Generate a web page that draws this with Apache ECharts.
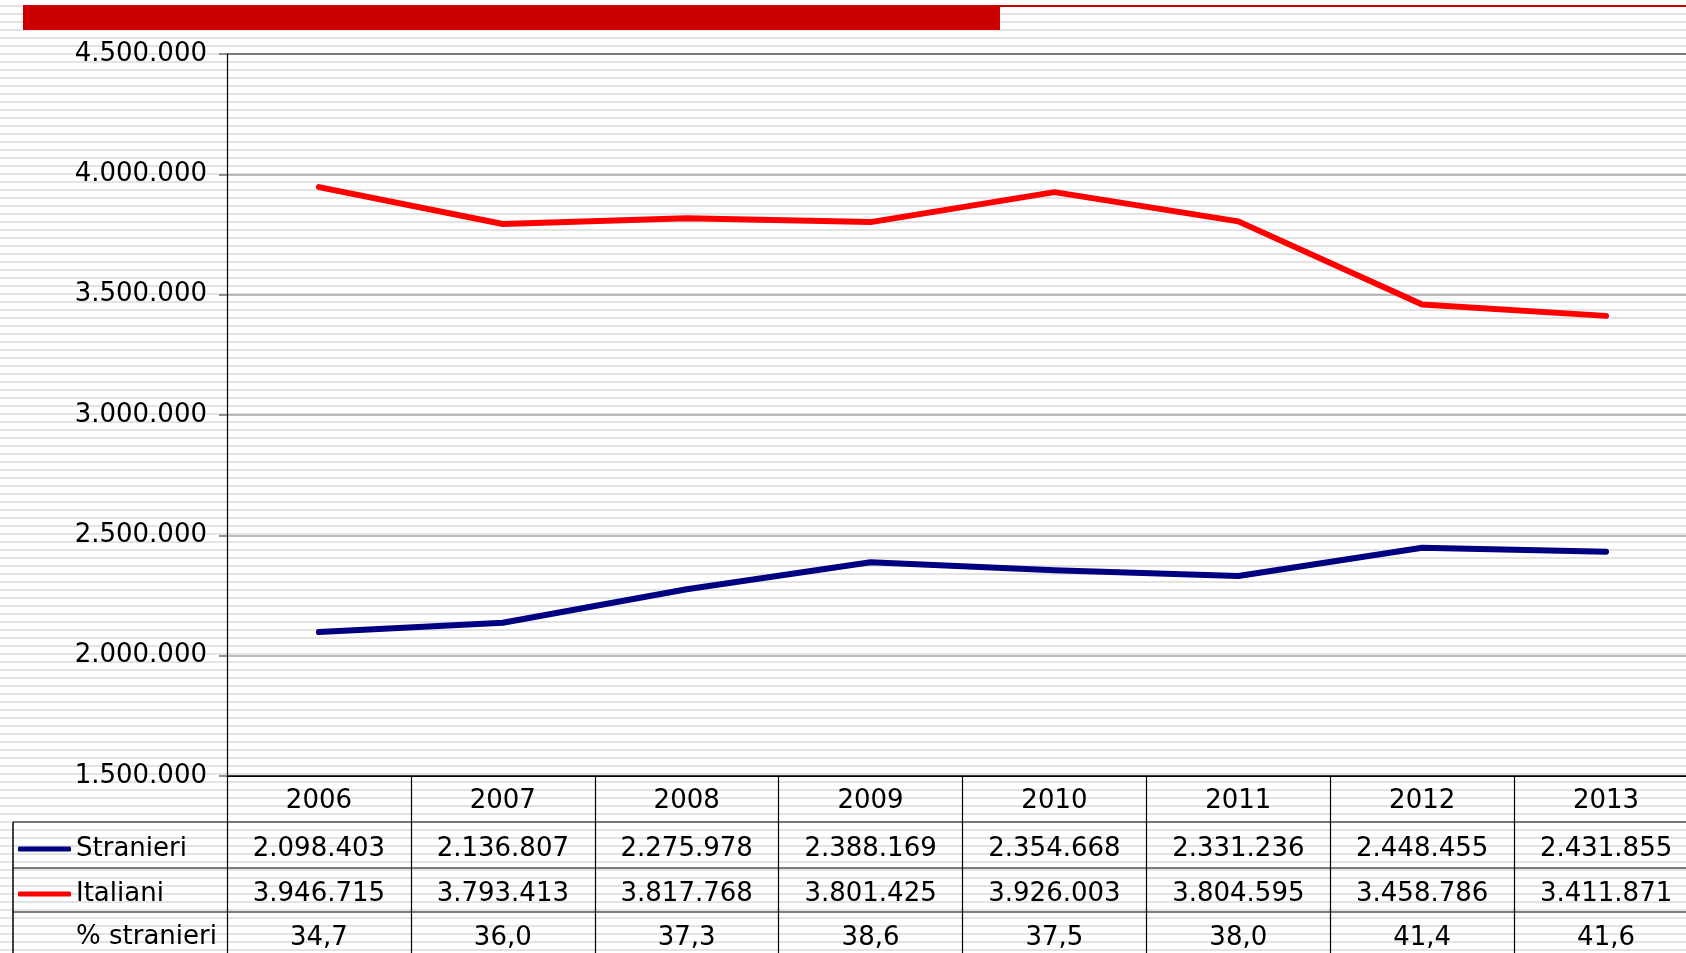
<!DOCTYPE html>
<html>
<head>
<meta charset="utf-8">
<script src="https://cdn.jsdelivr.net/npm/echarts@6/dist/echarts.min.js"></script>
<style>
  html, body { margin: 0; padding: 0; }
  body {
    width: 1686px; height: 953px; overflow: hidden;
    background: repeating-linear-gradient(to bottom, #ffffff 0px, #ffffff 5.5px, #e3e3e3 5.5px, #e3e3e3 7.5px, #ffffff 7.5px, #ffffff 8px);
  }
  #chart { width: 1686px; height: 953px; }
</style>
</head>
<body>
<div id="chart"></div>
<script>
// ---- data ----
const years = ['2006', '2007', '2008', '2009', '2010', '2011', '2012', '2013'];
const stranieri = [2098403, 2136807, 2275978, 2388169, 2354668, 2331236, 2448455, 2431855];
const italiani = [3946715, 3793413, 3817768, 3801425, 3926003, 3804595, 3458786, 3411871];
const pctStranieri = ['34,7', '36,0', '37,3', '38,6', '37,5', '38,0', '41,4', '41,6'];
const seriesNames = ['Stranieri', 'Italiani'];
const extraRowLabel = '% stranieri';

// ---- layout ----
const W = 1686, H = 953;
const gridLeft = 227, gridTop = 54, gridBottomY = 776, gridWidth = 1471;
const rowHeights = [46, 46, 44, 44];
const textLineHeights = [46, 50, 40, 48];
const FONT = '"DejaVu Sans", Verdana, sans-serif';
const FS = 26;

function fmtThousands(v) {
  return String(Math.round(v)).replace(/\B(?=(\d{3})+(?!\d))/g, '.');
}

const chart = echarts.init(document.getElementById('chart'), null, { renderer: 'canvas' });

const tableLineColor = '#505050';
const y1 = gridBottomY + rowHeights[0];
const y2 = y1 + rowHeights[1];
const y3 = y2 + rowHeights[2];
const graphics = [
  { type: 'rect', shape: { x: 23, y: 5, width: W - 23, height: 2 }, style: { fill: '#cc0000' } },
  { type: 'rect', shape: { x: 23, y: 5, width: 977, height: 25 }, style: { fill: '#cc0000' } },
  // table horizontal lines
  { type: 'line', shape: { x1: 13, y1: y1, x2: W, y2: y1 }, style: { stroke: tableLineColor, lineWidth: 1.5 } },
  { type: 'line', shape: { x1: 13, y1: y2, x2: W, y2: y2 }, style: { stroke: tableLineColor, lineWidth: 1.5 } },
  { type: 'line', shape: { x1: 13, y1: y3, x2: W, y2: y3 }, style: { stroke: tableLineColor, lineWidth: 1.5 } },
  { type: 'line', shape: { x1: 13, y1: y1, x2: 13, y2: H }, style: { stroke: '#000', lineWidth: 1.5 } },
  {
    type: 'text', left: 76, top: y3 + 12,
    style: { text: extraRowLabel, fill: '#000', font: FS + 'px ' + FONT }
  }
];

function rowStyle(k) {
  return { fontSize: FS, lineHeight: textLineHeights[k], color: '#000', fontFamily: FONT };
}

const option = {
  animation: false,
  backgroundColor: 'transparent',
  textStyle: { fontFamily: FONT },
  grid: {
    left: gridLeft, top: gridTop, width: gridWidth, height: gridBottomY - gridTop,
    containLabel: false, outerBoundsMode: 'none'
  },
  legend: {
    orient: 'vertical', left: 18, top: y1 + 12, padding: 0,
    itemWidth: 53, itemHeight: 5, itemGap: 15, icon: 'roundRect',
    selectedMode: false,
    data: seriesNames,
    textStyle: { fontSize: FS, color: '#000', fontFamily: FONT, lineHeight: 30, padding: [0, 0, 0, 0] }
  },
  xAxis: {
    type: 'category', data: years, boundaryGap: true,
    axisLine: { show: true, lineStyle: { color: '#000', width: 1.2 } },
    axisTick: { show: true, interval: 0, length: 185, lineStyle: { color: '#000', width: 1.2 } },
    splitLine: { show: false },
    axisLabel: {
      interval: 0, margin: 2, color: '#000', hideOverlap: false,
      formatter: function (v, i) {
        return '{r0|' + v + '}\n{r1|' + fmtThousands(stranieri[i]) + '}\n{r2|' + fmtThousands(italiani[i]) + '}\n{r3|' + pctStranieri[i] + '}';
      },
      rich: { r0: rowStyle(0), r1: rowStyle(1), r2: rowStyle(2), r3: rowStyle(3) }
    }
  },
  yAxis: {
    type: 'value', min: 1500000, max: 4500000, interval: 500000,
    axisLine: { show: true, lineStyle: { color: '#000', width: 1.2 } },
    axisTick: { show: true, length: 8, lineStyle: { color: '#707070', width: 1.5 } },
    axisLabel: { fontSize: FS, color: '#000', margin: 20, fontFamily: FONT, formatter: fmtThousands },
    splitLine: { show: true, lineStyle: { color: ['#000', '#a6a6a6', '#a6a6a6', '#a6a6a6', '#a6a6a6', '#a6a6a6', '#5a5a5a'], width: 1.5 } }
  },
  series: [
    {
      name: seriesNames[0], type: 'line', data: stranieri, symbol: 'none',
      color: '#000080',
      lineStyle: { color: '#000080', width: 6, cap: 'round', join: 'round' }
    },
    {
      name: seriesNames[1], type: 'line', data: italiani, symbol: 'none',
      color: '#ff0000',
      lineStyle: { color: '#ff0000', width: 6, cap: 'round', join: 'round' }
    }
  ],
  graphic: graphics
};

chart.setOption(option);
</script>
</body>
</html>
